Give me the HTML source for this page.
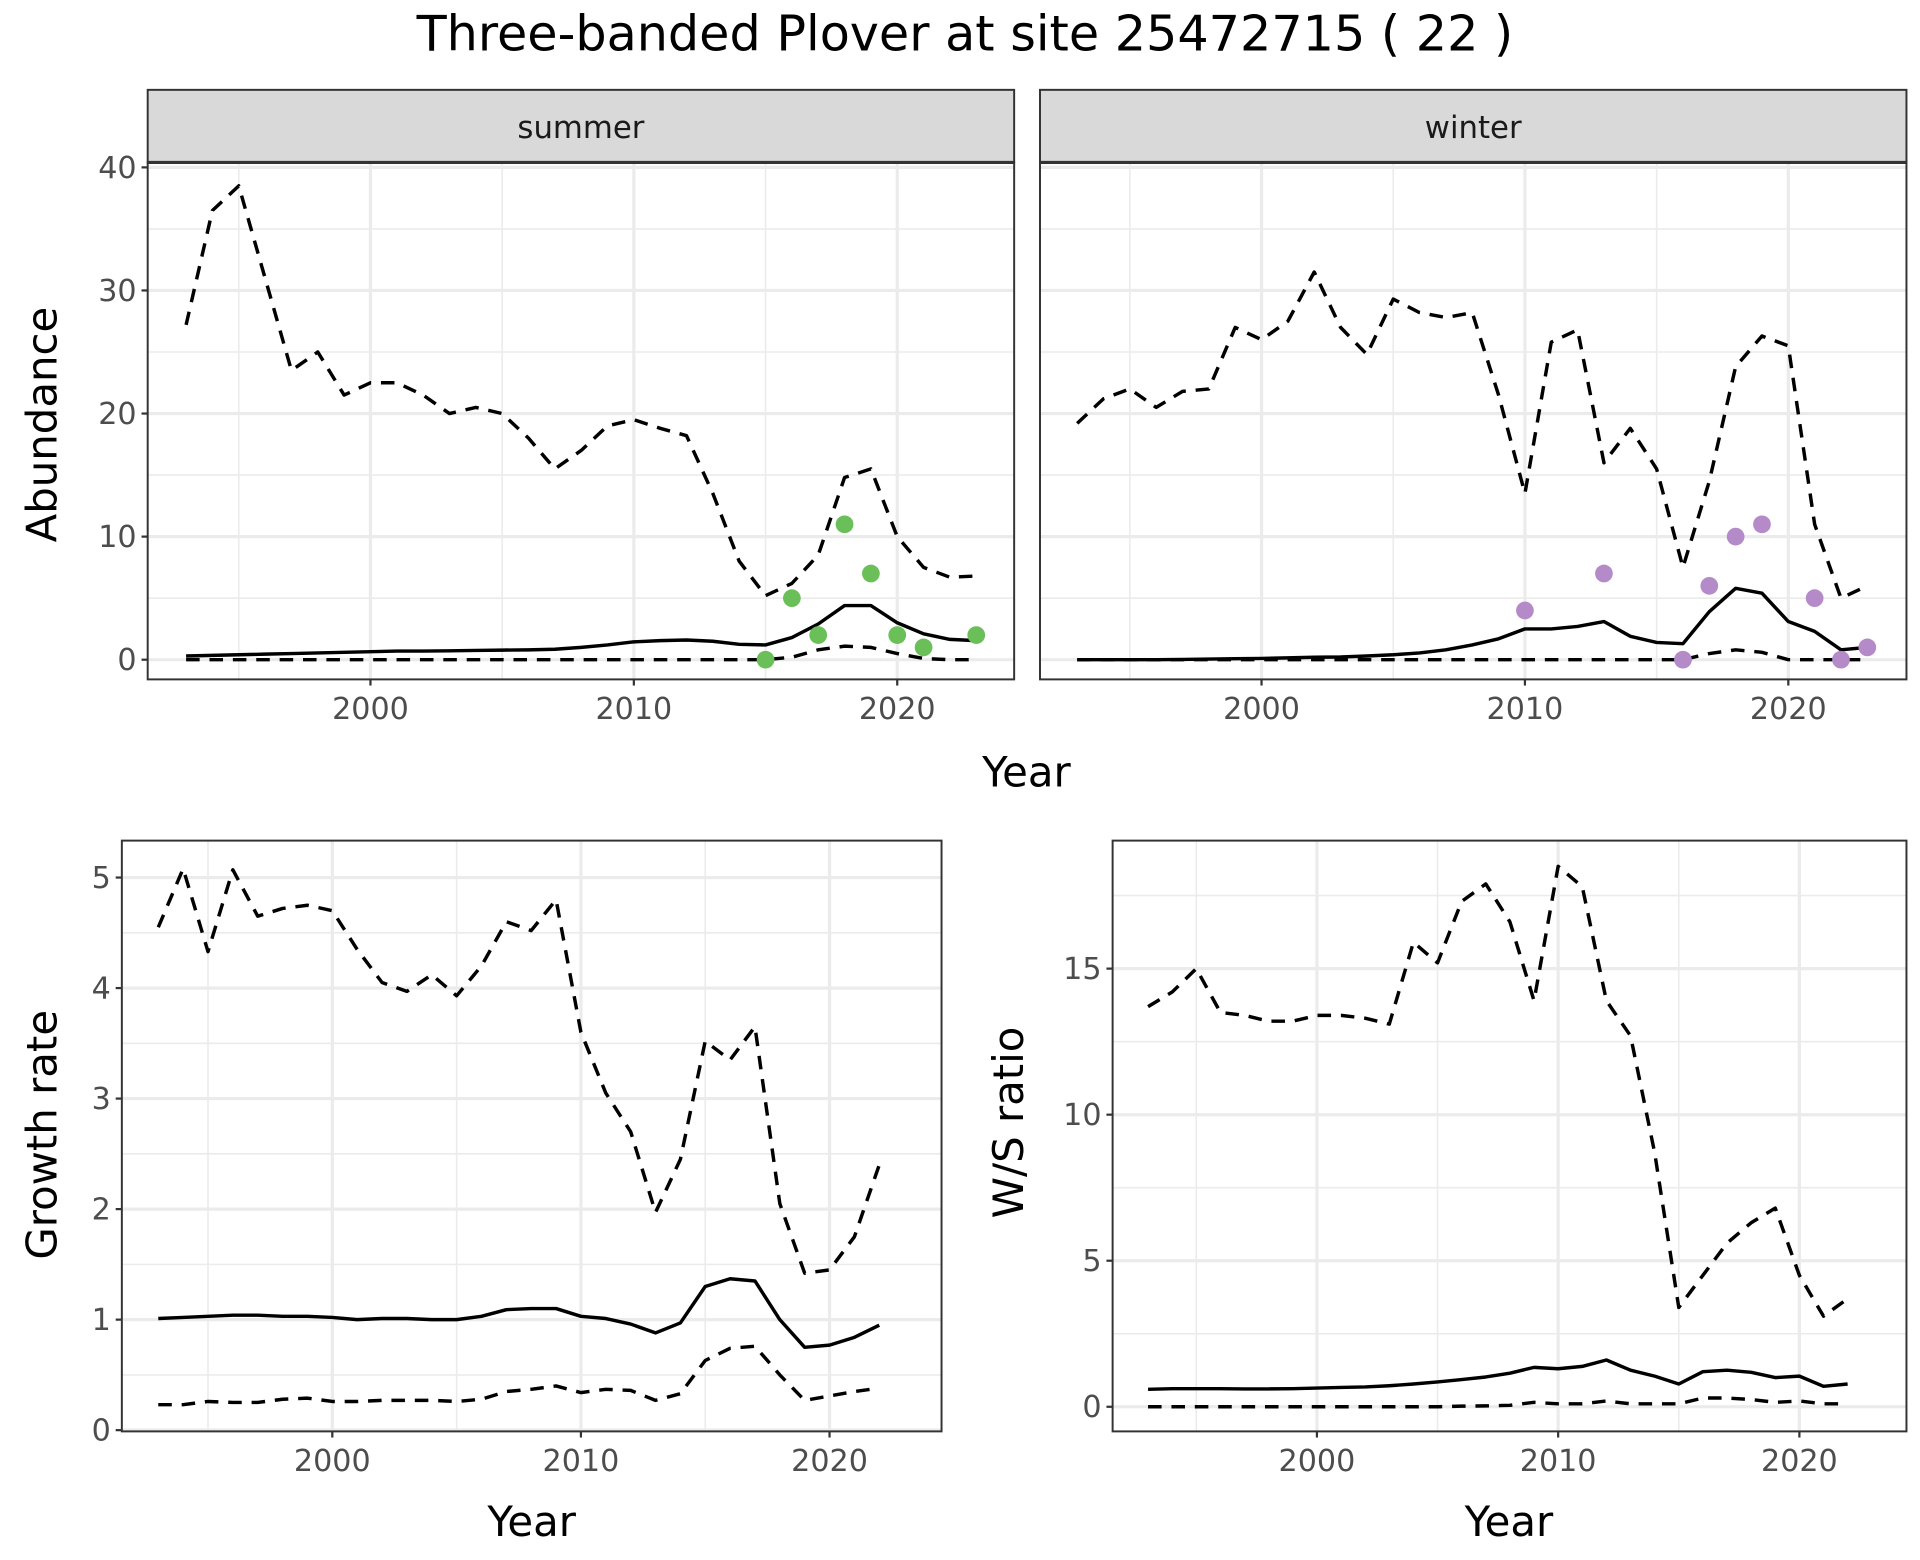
<!DOCTYPE html>
<html><head><meta charset="utf-8"><style>
html,body{margin:0;padding:0;background:#fff}
svg{display:block}
text{font-family:"DejaVu Sans","Liberation Sans",sans-serif}
</style></head><body>
<svg id="chart" width="1920" height="1560" viewBox="0 0 1560 1267.5" xmlns="http://www.w3.org/2000/svg">
<text x="784" y="41" font-size="40" text-anchor="middle" fill="#000">Three-banded Plover at site 25472715 ( 22 )</text>
<g id="g"></g>
</svg>
<script>
const yearsA = [1993,1994,1995,1996,1997,1998,1999,2000,2001,2002,2003,2004,2005,2006,2007,2008,2009,2010,2011,2012,2013,2014,2015,2016,2017,2018,2019,2020,2021,2022,2023];
const summerUpper = [27.2,36.5,38.5,31,23.5,25,21.5,22.5,22.5,21.5,20,20.5,20,18,15.5,17,19,19.5,18.8,18.2,13.5,8,5.2,6.2,8.5,14.8,15.5,10,7.5,6.7,6.8];
const summerMean = [0.3,0.35,0.4,0.45,0.5,0.55,0.6,0.65,0.7,0.7,0.72,0.75,0.78,0.8,0.85,1.0,1.2,1.45,1.55,1.6,1.5,1.25,1.2,1.8,2.9,4.4,4.4,3.0,2.1,1.65,1.55];
const summerLower = [0,0,0,0,0,0,0,0,0,0,0,0,0,0,0,0,0,0,0,0,0,0,0,0.2,0.8,1.1,1.0,0.5,0.1,0,0];
const summerObsYears = [2015,2016,2017,2018,2019,2020,2021,2023];
const summerObs = [0,5,2,11,7,2,1,2];
const winterUpper = [19.2,21.2,22,20.5,21.8,22,27,26,27.5,31.5,27,24.8,29.3,28.2,27.8,28.2,21.5,13.5,25.8,26.8,16,18.8,15.5,7.5,14.5,23.8,26.3,25.5,11,5,6];
const winterMean = [0,0,0,0,0.02,0.05,0.08,0.1,0.15,0.2,0.22,0.3,0.4,0.55,0.8,1.2,1.7,2.5,2.5,2.7,3.1,1.9,1.4,1.3,3.9,5.8,5.4,3.1,2.3,0.8,1.0];
const winterLower = [0,0,0,0,0,0,0,0,0,0,0,0,0,0,0,0,0,0,0,0,0,0,0,0,0.5,0.8,0.6,0,0,0,0];
const winterObsYears = [2010,2013,2016,2017,2018,2019,2021,2022,2023];
const winterObs = [4,7,0,6,10,11,5,0,1];
const yearsB = [1993,1994,1995,1996,1997,1998,1999,2000,2001,2002,2003,2004,2005,2006,2007,2008,2009,2010,2011,2012,2013,2014,2015,2016,2017,2018,2019,2020,2021,2022];
const growthUpper = [4.55,5.08,4.33,5.07,4.65,4.72,4.75,4.7,4.35,4.05,3.97,4.12,3.93,4.2,4.6,4.52,4.8,3.6,3.05,2.7,1.97,2.45,3.52,3.35,3.65,2.05,1.42,1.45,1.75,2.4];
const growthMean = [1.01,1.02,1.03,1.04,1.04,1.03,1.03,1.02,1.0,1.01,1.01,1.0,1.0,1.03,1.09,1.1,1.1,1.03,1.01,0.96,0.88,0.97,1.3,1.37,1.35,1.0,0.75,0.77,0.84,0.95];
const growthLower = [0.23,0.23,0.26,0.25,0.25,0.28,0.29,0.26,0.26,0.27,0.27,0.27,0.26,0.28,0.35,0.37,0.4,0.34,0.37,0.36,0.27,0.33,0.63,0.74,0.76,0.5,0.27,0.31,0.35,0.38];
const ratioUpper = [13.7,14.2,15,13.5,13.4,13.2,13.2,13.4,13.4,13.3,13.1,15.9,15.2,17.3,17.9,16.6,13.9,18.5,17.8,13.9,12.7,8.7,3.4,4.5,5.6,6.3,6.8,4.5,3.1,3.7];
const ratioMean = [0.6,0.62,0.62,0.62,0.61,0.61,0.62,0.64,0.66,0.68,0.72,0.78,0.85,0.93,1.02,1.15,1.35,1.3,1.38,1.6,1.25,1.05,0.78,1.2,1.25,1.18,1.0,1.05,0.7,0.78];
const ratioLower = [0,0,0,0,0,0,0,0,0,0,0,0,0,0.02,0.03,0.05,0.15,0.1,0.1,0.2,0.1,0.1,0.1,0.3,0.3,0.25,0.15,0.2,0.1,0.1];
const xTicks = [2000,2010,2020];
const abundTicks = [0,10,20,30,40];
const growthTicks = [0,1,2,3,4,5];
const ratioTicks = [0,5,10,15];

const NS='http://www.w3.org/2000/svg';
const G=document.getElementById('g');
function el(tag,attrs,parent){const e=document.createElementNS(NS,tag);for(const k in attrs)e.setAttribute(k,attrs[k]);(parent||G).appendChild(e);return e;}

function panel(cfg){
  const {name,x0,x1,y0,y1,sx,sy,yTicks,minorY}=cfg;
  const g=el('g',{});
  
  
  el('rect',{x:x0,y:y0,width:x1-x0,height:y1-y0,fill:'#fff'},g);
  minorY.forEach(v=>{if(sy(v)>y0&&sy(v)<y1)el('line',{x1:x0,x2:x1,y1:sy(v),y2:sy(v),stroke:'#ebebeb','stroke-width':1.3},g);});
  [1995,2005,2015].forEach(v=>{const x=sx(v);if(x>x0&&x<x1)el('line',{x1:x,x2:x,y1:y0,y2:y1,stroke:'#ebebeb','stroke-width':1.3},g);});
  yTicks.forEach(v=>{const l=el('line',{x1:x0,x2:x1,y1:sy(v),y2:sy(v),stroke:'#ebebeb','stroke-width':2.6},g);});
  xTicks.forEach(v=>{const l=el('line',{x1:sx(v),x2:sx(v),y1:y0,y2:y1,stroke:'#ebebeb','stroke-width':2.6},g);});
  return g;
}
function axes(cfg,g){
  const {x0,x1,y0,y1,sx,sy,yTicks,showY,showX}=cfg;
  if(showY){
    yTicks.forEach(v=>{
      el('line',{x1:x0-5,x2:x0,y1:sy(v),y2:sy(v),stroke:'#333','stroke-width':1.8},g);
      const t=el('text',{x:x0-9,y:sy(v)+8.5,'font-size':24.5,'text-anchor':'end',fill:'#4d4d4d'},g);
      t.textContent=v;
      
      
    });
  }
  if(showX){
    xTicks.forEach(v=>{
      el('line',{x1:sx(v),x2:sx(v),y1:y1,y2:y1+5,stroke:'#333','stroke-width':1.8},g);
      const t=el('text',{x:sx(v),y:y1+32,'font-size':24.5,'text-anchor':'middle',fill:'#4d4d4d'},g);
      t.textContent=v;
      
      
    });
  }
  el('rect',{x:x0,y:y0,width:x1-x0,height:y1-y0,fill:'none',stroke:'#333','stroke-width':1.6},g);
}
function line(g,xs,ys,sx,sy,dashed,name){
  const d=xs.map((x,i)=>(i?'L':'M')+sx(x).toFixed(1)+','+sy(ys[i]).toFixed(1)).join('');
  const p=el('path',{d:d,fill:'none',stroke:'#000','stroke-width':2.8,'stroke-linejoin':'round'},g);
  if(dashed)p.setAttribute('stroke-dasharray','11,8');
  
  
}
function points(g,xs,ys,sx,sy,col,name){
  xs.forEach((x,i)=>{
    const c=el('circle',{cx:sx(x),cy:sy(ys[i]),r:7.2,fill:col},g);
    
    
  });
}
function lin(d0,d1,r0,r1){return v=>r0+(v-d0)*(r1-r0)/(d1-d0);}

const ySA=lin(0,40,536,136);
const summerCfg={name:'summer',x0:120,x1:824,y0:132,y1:552,sx:lin(2000,2020,301,729),sy:ySA,yTicks:abundTicks,minorY:[5,15,25,35],showY:true,showX:true};
const winterCfg={name:'winter',x0:845,x1:1549,y0:132,y1:552,sx:lin(2000,2020,1025,1453),sy:ySA,yTicks:abundTicks,minorY:[5,15,25,35],showY:false,showX:true};
[[summerCfg,'summer',summerUpper,summerMean,summerLower,summerObsYears,summerObs,'#6bbf59'],
 [winterCfg,'winter',winterUpper,winterMean,winterLower,winterObsYears,winterObs,'#b48ac8']].forEach(([c,lab,u,m,l,oy,o,col])=>{
  const g=panel(c);
  line(g,yearsA,u,c.sx,c.sy,true,lab+'-upper-line');
  line(g,yearsA,l,c.sx,c.sy,true,lab+'-lower-line');
  line(g,yearsA,m,c.sx,c.sy,false,lab+'-mean-line');
  points(g,oy,o,c.sx,c.sy,col,lab+'-observed-point');
  axes(c,g);
  const s=el('rect',{x:c.x0,y:73,width:c.x1-c.x0,height:59,fill:'#d9d9d9',stroke:'#333','stroke-width':1.6},g);
  
  
  el('line',{x1:c.x0,x2:c.x1,y1:132,y2:132,stroke:'#333','stroke-width':2.6},g);
  const t=el('text',{x:(c.x0+c.x1)/2,y:112,'font-size':25,'text-anchor':'middle',fill:'#1a1a1a'},g);
  t.textContent=lab;
  
  
});

const growthCfg={name:'growth',x0:99,x1:765,y0:683,y1:1163,sx:lin(2000,2020,270,674),sy:lin(0,5,1162,713),yTicks:growthTicks,minorY:[0.5,1.5,2.5,3.5,4.5],showY:true,showX:true};
const ratioCfg={name:'ratio',x0:904,x1:1549,y0:683,y1:1163,sx:lin(2000,2020,1070,1462),sy:lin(0,15,1143,787),yTicks:ratioTicks,minorY:[2.5,7.5,12.5,17.5],showY:true,showX:true};
[[growthCfg,'growth',growthUpper,growthMean,growthLower],[ratioCfg,'ratio',ratioUpper,ratioMean,ratioLower]].forEach(([c,lab,u,m,l])=>{
  const g=panel(c);
  line(g,yearsB,u,c.sx,c.sy,true,lab+'-upper-line');
  line(g,yearsB,l,c.sx,c.sy,true,lab+'-lower-line');
  line(g,yearsB,m,c.sx,c.sy,false,lab+'-mean-line');
  axes(c,g);
});

function label(txt,x,y,rot,name){
  const t=el('text',{x:x,y:y,'font-size':34,'text-anchor':'middle',fill:'#000'});
  if(rot)t.setAttribute('transform','rotate(-90 '+x+' '+y+')');
  t.textContent=txt;
  
  
}
label('Year',834,639,false,'top-x-axis-title');
label('Abundance',46,345,true,'abundance-y-axis-title');
label('Year',432,1248,false,'growth-x-axis-title');
label('Year',1226,1248,false,'ratio-x-axis-title');
label('Growth rate',46,922,true,'growth-y-axis-title');
label('W/S ratio',831,912,true,'ratio-y-axis-title');
</script>
</body></html>
